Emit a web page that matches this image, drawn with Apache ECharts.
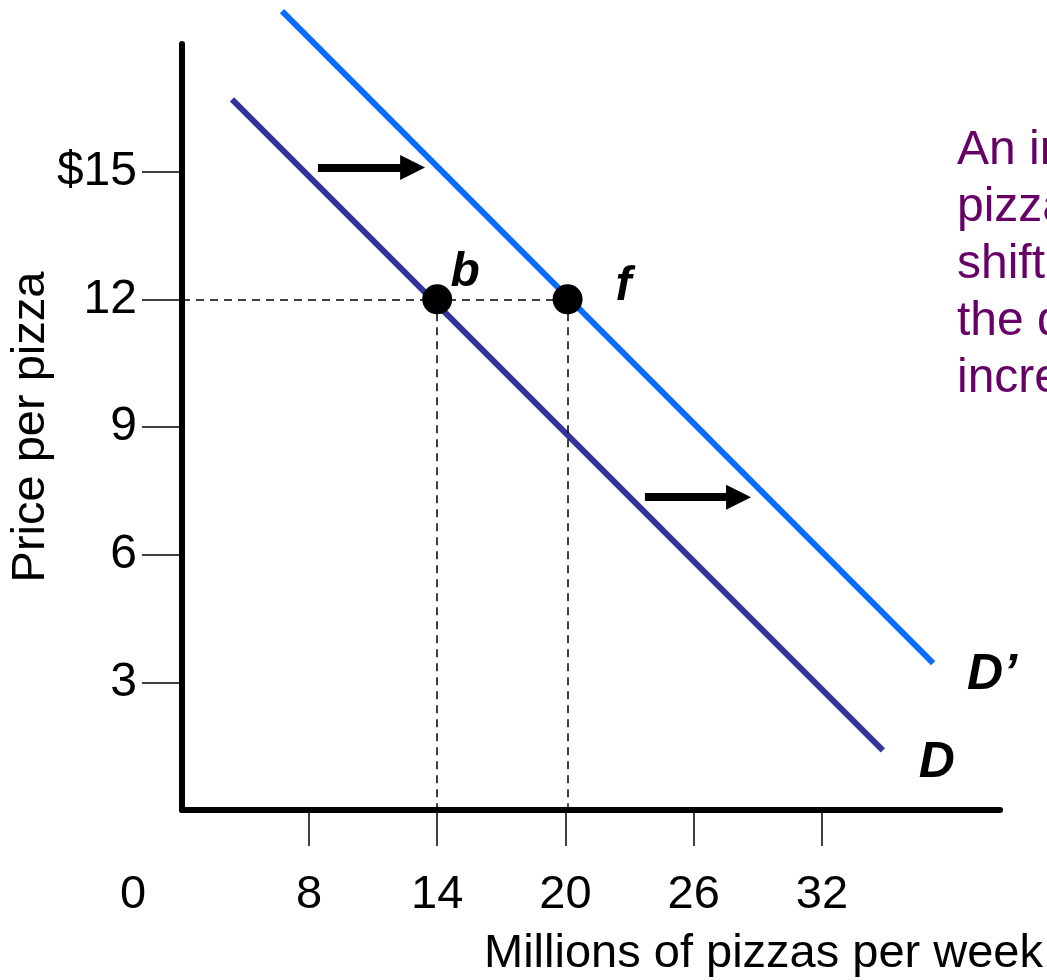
<!DOCTYPE html>
<html>
<head>
<meta charset="utf-8">
<script src="https://cdn.jsdelivr.net/npm/echarts@6/dist/echarts.min.js"></script>
<style>
  html, body { margin: 0; padding: 0; background: #fff; }
  #chart { width: 1047px; height: 980px; }
</style>
</head>
<body>
<div id="chart"></div>
<script>
// 需求曲线 (数量, 价格)
var demandD = [[4.4, 16.7], [34.85, 1.4]];
var demandD2 = [[6.74, 18.77], [37.2, 3.45]];
// 均衡点 b / f
var pointNames = ['b', 'f'];
var pointB = [14, 12];
var pointF = [20.1, 12];
// 右移箭头 [起点, 终点]
var arrows = [
  [[8.42, 15.1], [12.85, 15.1]],
  [[23.72, 7.35], [28.1, 7.35]]
];
var xMin = 2.06, xMax = 40.33;
var xTicks = [8, 14, 20, 26, 32];
var yTicks = [3, 6, 9, 12, 15];
var noteLines = [
  'An increase in the demand for',
  'pizza means a rightward',
  'shift of the demand curve:',
  'the quantity demanded',
  'increases at every price.'
];

var FONT = 'Liberation Sans, Arial, sans-serif';
var chart = echarts.init(document.getElementById('chart'));

var option = {
  animation: false,
  title: {
    text: noteLines.join('\n'),
    left: 957,
    top: 122,
    padding: 0,
    textStyle: {
      color: '#660066',
      fontFamily: FONT,
      fontSize: 48,
      fontWeight: 'normal',
      lineHeight: 57
    }
  },
  grid: { left: 182, top: 44, right: 47, bottom: 170, containLabel: false, outerBoundsMode: 'none' },
  xAxis: {
    type: 'value',
    min: xMin,
    max: xMax,
    name: 'Millions of pizzas per week',
    nameLocation: 'end',
    nameGap: 43,
    nameMoveOverlap: false,
    nameTextStyle: {
      color: '#000',
      fontFamily: FONT,
      fontSize: 47,
      align: 'right',
      verticalAlign: 'top',
      padding: [121, 0, 0, 0]
    },
    splitLine: { show: false },
    axisLine: { lineStyle: { color: '#000', width: 6 } },
    axisTick: {
      customValues: xTicks,
      length: 36,
      lineStyle: { color: '#000', width: 1.5 }
    },
    axisLabel: {
      customValues: [xMin].concat(xTicks),
      margin: 62,
      color: '#000',
      fontFamily: FONT,
      fontSize: 47,
      formatter: function (v) {
        return v === xMin ? '{z|0}' : String(v);
      },
      rich: {
        z: { fontFamily: FONT, fontSize: 47, color: '#000', padding: [0, 98, 0, 0] }
      }
    }
  },
  yAxis: {
    type: 'value',
    min: 0,
    max: 18,
    name: 'Price per pizza',
    nameLocation: 'middle',
    nameGap: 127,
    nameMoveOverlap: false,
    nameTextStyle: { color: '#000', fontFamily: FONT, fontSize: 47 },
    splitLine: { show: false },
    axisLine: { lineStyle: { color: '#000', width: 6 } },
    axisTick: {
      customValues: yTicks,
      length: 40,
      lineStyle: { color: '#000', width: 1.5 }
    },
    axisLabel: {
      customValues: yTicks,
      margin: 45,
      color: '#000',
      fontFamily: FONT,
      fontSize: 48,
      formatter: function (v) {
        return v === 15 ? '$15' : String(v);
      }
    }
  },
  series: [
    {
      name: 'D',
      type: 'line',
      data: demandD,
      symbol: 'none',
      clip: false,
      lineStyle: { color: '#333399', width: 6 },
      endLabel: {
        show: true,
        formatter: 'D',
        distance: 0,
        offset: [36, 13],
        color: '#000',
        fontFamily: FONT,
        fontSize: 50,
        fontWeight: 'bold',
        fontStyle: 'italic'
      },
      // 虚线参考线
      markLine: {
        silent: true,
        symbol: 'none',
        label: { show: false },
        lineStyle: { color: '#000', width: 1.5, type: [8, 6] },
        data: [
          [{ coord: [xMin, pointB[1]] }, { coord: pointF }],
          [{ coord: pointB }, { coord: [pointB[0], 0] }],
          [{ coord: pointF }, { coord: [pointF[0], 0] }]
        ]
      }
    },
    {
      name: "D’",
      type: 'line',
      data: demandD2,
      symbol: 'none',
      clip: false,
      lineStyle: { color: '#0a6cff', width: 6 },
      endLabel: {
        show: true,
        formatter: 'D’',
        distance: 0,
        offset: [34, 12],
        color: '#000',
        fontFamily: FONT,
        fontSize: 50,
        fontWeight: 'bold',
        fontStyle: 'italic'
      }
    },
    {
      type: 'lines',
      coordinateSystem: 'cartesian2d',
      polyline: false,
      data: arrows.map(function (a) { return { coords: a }; }),
      symbol: ['none', 'triangle'],
      symbolSize: [24, 25],
      lineStyle: { color: '#000', width: 8, opacity: 1 },
      itemStyle: { color: '#000', opacity: 1 },
      z: 3
    },
    {
      type: 'scatter',
      symbolSize: 30,
      itemStyle: { color: '#000', opacity: 1 },
      z: 4,
      data: [
        { value: pointB, name: pointNames[0], label: { offset: [28, -27] } },
        { value: pointF, name: pointNames[1], label: { offset: [56, -13] } }
      ],
      label: {
        show: true,
        position: 'inside',
        formatter: '{b}',
        color: '#000',
        opacity: 1,
        fontFamily: FONT,
        fontSize: 48,
        fontWeight: 'bold',
        fontStyle: 'italic'
      }
    }
  ]
};

chart.setOption(option);
</script>
</body>
</html>
